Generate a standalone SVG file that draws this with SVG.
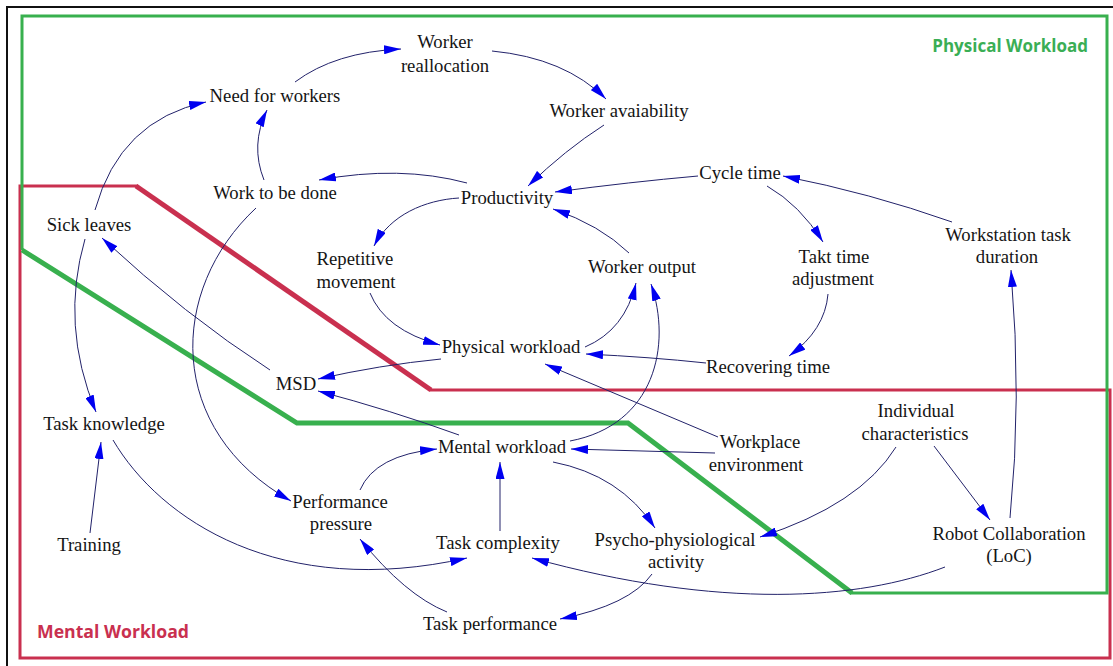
<svg xmlns="http://www.w3.org/2000/svg" width="1113" height="666" viewBox="0 0 1113 666">
  <defs>
    <marker id="arrow" markerUnits="userSpaceOnUse" markerWidth="17" markerHeight="9" refX="17" refY="4.5" orient="auto">
      <path d="M0,0 L17,4.5 L0,9 z" fill="#0000f0"/>
    </marker>
    <style>
      .node text { font-family: "Liberation Serif", "Times New Roman", serif; font-size: 18.7px; fill: #141414; text-anchor: middle; }
      .link { fill: none; stroke: #22226a; stroke-width: 1; marker-end: url(#arrow); }
      .zone-label { font-family: "Open Sans", "Liberation Sans", Arial, sans-serif; font-size: 17px; font-weight: bold; }
      .green { stroke: #38b04e; fill: none; stroke-linejoin: miter; }
      .red { stroke: #c9304f; fill: none; stroke-linejoin: miter; }
    </style>
  </defs>

  <rect width="1113" height="666" fill="#ffffff"/>

  <!-- outer frame -->
  <path d="M7,666 V7 H1113" fill="none" stroke="#111111" stroke-width="2"/>

  <!-- zone outlines -->
  <g id="zones">
    <!-- mental workload zone -->
    <path class="red" stroke-width="3" d="M138,186 H20 V658 H1110 V390 H430"/>
    <path class="red" stroke-width="5" d="M136,186 L431,390"/>
    <!-- physical workload zone -->
    <path class="green" stroke-width="3" d="M22,250 V16 H1107 V593 H850"/>
    <path class="green" stroke-width="5" d="M22,250 L297,423 H628 L852,593"/>
    <text class="zone-label" x="1088" y="52" text-anchor="end" fill="#3aae55">Physical Workload</text>
    <text class="zone-label" x="37" y="638" fill="#c9304f" textLength="152" lengthAdjust="spacingAndGlyphs">Mental Workload</text>
  </g>

  <!-- causal links -->
  <g id="connectors">
    <path class="link" d="M295,82 Q335,52 401,49"/>
    <path class="link" d="M492,51 Q565,58 606,99"/>
    <path class="link" d="M604,125 Q565,150 528,186"/>
    <path class="link" d="M698,176 Q630,182 555,192"/>
    <path class="link" d="M629,253 Q600,225 553,209"/>
    <path class="link" d="M467,183 Q400,165 319,180"/>
    <path class="link" d="M459,198 C425,200 390,215 374,246"/>
    <path class="link" d="M264,180 Q250,145 267,110"/>
    <path class="link" d="M95,210 Q120,120 206,102"/>
    <path class="link" d="M85,239 Q60,325 96,412"/>
    <path class="link" d="M270,370 Q185,315 102,238"/>
    <path class="link" d="M256,208 C168,290 165,430 291,501"/>
    <path class="link" d="M441,359 Q380,365 318,379"/>
    <path class="link" d="M459,435 Q390,410 318,391"/>
    <path class="link" d="M370,293 Q385,330 440,345"/>
    <path class="link" d="M585,347 Q625,330 636,283"/>
    <path class="link" d="M570,441 C655,425 672,345 651,284"/>
    <path class="link" d="M706,363 Q650,357 586,354"/>
    <path class="link" d="M718,437 L545,364"/>
    <path class="link" d="M715,453 L571,449"/>
    <path class="link" d="M767,186 Q800,205 823,242"/>
    <path class="link" d="M952,222 Q870,193 783,176"/>
    <path class="link" d="M828,294 Q825,330 789,356"/>
    <path class="link" d="M1010,518 Q1022,400 1011,270"/>
    <path class="link" d="M934,446 L990,520"/>
    <path class="link" d="M896,447 Q860,505 760,537"/>
    <path class="link" d="M945,567 C860,600 720,610 532,558"/>
    <path class="link" d="M553,462 Q620,475 655,528"/>
    <path class="link" d="M652,574 Q630,605 560,619"/>
    <path class="link" d="M500,531 L500,462"/>
    <path class="link" d="M360,490 Q375,455 437,449"/>
    <path class="link" d="M447,612 Q405,595 360,539"/>
    <path class="link" d="M113,440 C160,520 280,600 467,558"/>
    <path class="link" d="M90,533 L101,442"/>
  </g>

  <!-- variables -->
  <g id="worker-reallocation" class="node"><text x="445" y="48">Worker</text><text x="445" y="72">reallocation</text></g>
  <g id="need-for-workers" class="node"><text x="275" y="102">Need for workers</text></g>
  <g id="worker-availability" class="node"><text x="619" y="117">Worker avaiability</text></g>
  <g id="work-to-be-done" class="node"><text x="275" y="199">Work to be done</text></g>
  <g id="productivity" class="node"><text x="507" y="204">Productivity</text></g>
  <g id="cycle-time" class="node"><text x="740" y="179">Cycle time</text></g>
  <g id="sick-leaves" class="node"><text x="89" y="231">Sick leaves</text></g>
  <g id="repetitive-movement" class="node"><text x="355" y="265">Repetitive</text><text x="356" y="288">movement</text></g>
  <g id="worker-output" class="node"><text x="642" y="273">Worker output</text></g>
  <g id="takt-time-adjustment" class="node"><text x="834" y="263">Takt time</text><text x="833" y="285">adjustment</text></g>
  <g id="workstation-task-duration" class="node"><text x="1008" y="241">Workstation task</text><text x="1007" y="263">duration</text></g>
  <g id="physical-workload" class="node"><text x="511" y="353">Physical workload</text></g>
  <g id="recovering-time" class="node"><text x="768" y="373">Recovering time</text></g>
  <g id="msd" class="node"><text x="296" y="390">MSD</text></g>
  <g id="task-knowledge" class="node"><text x="104" y="430">Task knowledge</text></g>
  <g id="individual-characteristics" class="node"><text x="916" y="417">Individual</text><text x="915" y="440">characteristics</text></g>
  <g id="workplace-environment" class="node"><text x="760" y="448">Workplace</text><text x="756" y="471">environment</text></g>
  <g id="mental-workload" class="node"><text x="502" y="453">Mental workload</text></g>
  <g id="performance-pressure" class="node"><text x="340" y="508">Performance</text><text x="341" y="530">pressure</text></g>
  <g id="training" class="node"><text x="89" y="551">Training</text></g>
  <g id="task-complexity" class="node"><text x="498" y="549">Task complexity</text></g>
  <g id="psycho-physiological-activity" class="node"><text x="675" y="546">Psycho-physiological</text><text x="676" y="568">activity</text></g>
  <g id="task-performance" class="node"><text x="490" y="630">Task performance</text></g>
  <g id="robot-collaboration" class="node"><text x="1009" y="540">Robot Collaboration</text><text x="1009" y="562">(LoC)</text></g>
</svg>
